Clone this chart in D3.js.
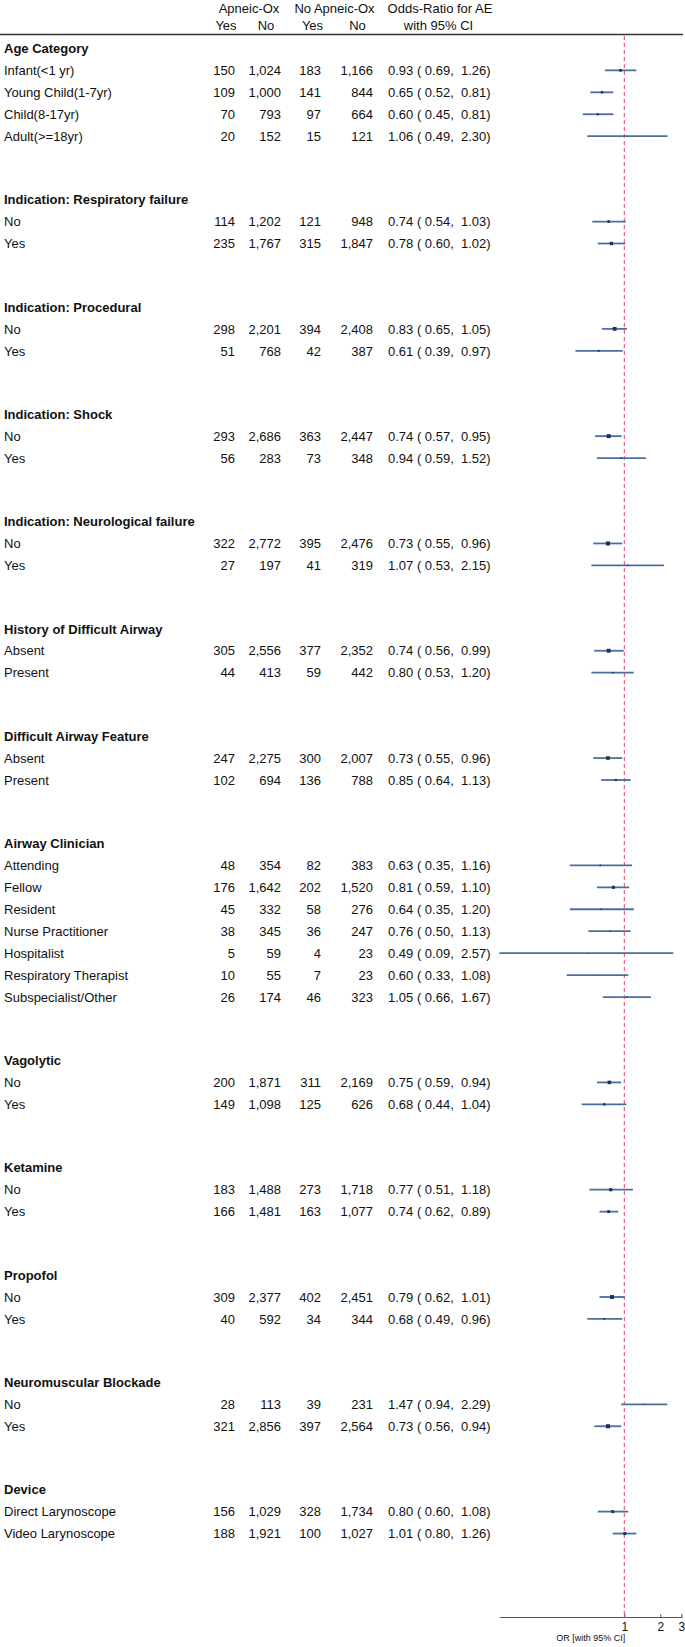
<!DOCTYPE html>
<html>
<head>
<meta charset="utf-8">
<script src="https://cdn.jsdelivr.net/npm/d3@7"></script>
<style>
  html, body { margin: 0; padding: 0; background: #fff; }
  svg { display: block; font-family: "Liberation Sans", Arial, sans-serif; }
</style>
</head>
<body>
<svg id="chart" width="685" height="1647"></svg>
<script>
// ---------- DATA ----------
const groupNames = [
  "Age Category",
  "Indication: Respiratory failure",
  "Indication: Procedural",
  "Indication: Shock",
  "Indication: Neurological failure",
  "History of Difficult Airway",
  "Difficult Airway Feature",
  "Airway Clinician",
  "Vagolytic",
  "Ketamine",
  "Propofol",
  "Neuromuscular Blockade",
  "Device"
];
// group index of each row
const rowGroup = [0,0,0,0, 1,1, 2,2, 3,3, 4,4, 5,5, 6,6, 7,7,7,7,7,7,7, 8,8, 9,9, 10,10, 11,11, 12,12];
const rowLabels = [
  "Infant(<1 yr)", "Young Child(1-7yr)", "Child(8-17yr)", "Adult(>=18yr)",
  "No", "Yes",
  "No", "Yes",
  "No", "Yes",
  "No", "Yes",
  "Absent", "Present",
  "Absent", "Present",
  "Attending", "Fellow", "Resident", "Nurse Practitioner", "Hospitalist", "Respiratory Therapist", "Subspecialist/Other",
  "No", "Yes",
  "No", "Yes",
  "No", "Yes",
  "No", "Yes",
  "Direct Larynoscope", "Video Larynoscope"
];
const apneicYes = [150,109,70,20, 114,235, 298,51, 293,56, 322,27, 305,44, 247,102, 48,176,45,38,5,10,26, 200,149, 183,166, 309,40, 28,321, 156,188];
const apneicNo  = [1024,1000,793,152, 1202,1767, 2201,768, 2686,283, 2772,197, 2556,413, 2275,694, 354,1642,332,345,59,55,174, 1871,1098, 1488,1481, 2377,592, 113,2856, 1029,1921];
const noApneicYes = [183,141,97,15, 121,315, 394,42, 363,73, 395,41, 377,59, 300,136, 82,202,58,36,4,7,46, 311,125, 273,163, 402,34, 39,397, 328,100];
const noApneicNo  = [1166,844,664,121, 948,1847, 2408,387, 2447,348, 2476,319, 2352,442, 2007,788, 383,1520,276,247,23,23,323, 2169,626, 1718,1077, 2451,344, 231,2564, 1734,1027];
const orEst = [0.93,0.65,0.60,1.06, 0.74,0.78, 0.83,0.61, 0.74,0.94, 0.73,1.07, 0.74,0.80, 0.73,0.85, 0.63,0.81,0.64,0.76,0.49,0.60,1.05, 0.75,0.68, 0.77,0.74, 0.79,0.68, 1.47,0.73, 0.80,1.01];
const ciLow = [0.69,0.52,0.45,0.49, 0.54,0.60, 0.65,0.39, 0.57,0.59, 0.55,0.53, 0.56,0.53, 0.55,0.64, 0.35,0.59,0.35,0.50,0.09,0.33,0.66, 0.59,0.44, 0.51,0.62, 0.62,0.49, 0.94,0.56, 0.60,0.80];
const ciHigh = [1.26,0.81,0.81,2.30, 1.03,1.02, 1.05,0.97, 0.95,1.52, 0.96,2.15, 0.99,1.20, 0.96,1.13, 1.16,1.10,1.20,1.13,2.57,1.08,1.67, 0.94,1.04, 1.18,0.89, 1.01,0.96, 2.29,0.94, 1.08,1.26];
const axisTicks = [1, 2, 3];
const axisLabel = "OR [with 95% CI]";
const headTop = ["Apneic-Ox", "No Apneic-Ox", "Odds-Ratio for AE"];
const headSub = ["Yes", "No", "Yes", "No", "with 95% CI"];

// ---------- LAYOUT ----------
const svg = d3.select("#chart");
const fmtInt = d3.format(",");
const fmt2 = d3.format(".2f");
const pad5 = v => { const s = fmt2(v); return " ".repeat(Math.max(0, 5 - s.length)) + s; };

const rowStep = 21.95;
const gapAfterGroup = 63.4;   // distance from a group's last row to the next header
const yUnit = d3.scaleLinear().domain([0, 1]).range([48.4, 48.4 + rowStep]);

// compute slot positions (in row units)
const headerSlot = [];
const rowSlot = [];
let slot = 0;
groupNames.forEach((g, gi) => {
  headerSlot.push(slot);
  const idx = rowGroup.map((v, i) => v === gi ? i : -1).filter(i => i >= 0);
  idx.forEach((ri, j) => { rowSlot[ri] = slot + j + 1; });
  slot = slot + idx.length + gapAfterGroup / rowStep;
});

const x = d3.scaleLog().domain([0.09, 3.05]).range([499.3, 682.2]);
const axisY = 1617;
const totals = apneicYes.map((v, i) => v + apneicNo[i] + noApneicYes[i] + noApneicNo[i]);
const boxSize = d3.scaleSqrt().domain([0, d3.max(totals)]).range([0, 4.1]);

const textCol = "#111";
const fs = 13;

// ---------- HEADER ----------
const hdr = svg.append("g").attr("font-size", fs).attr("fill", textCol);
const topX = [249, 334.5, 440];
headTop.forEach((t, i) => hdr.append("text").attr("x", topX[i]).attr("y", 12.5).attr("text-anchor", "middle").text(t));
const subX = [226, 266, 312.5, 357.5, 438.5];
headSub.forEach((t, i) => hdr.append("text").attr("x", subX[i]).attr("y", 29.5).attr("text-anchor", "middle").text(t));
svg.append("line").attr("x1", 0).attr("x2", 683).attr("y1", 34.5).attr("y2", 34.5)
  .attr("stroke", "#333").attr("stroke-width", 1.6);

// ---------- GROUP HEADERS ----------
svg.append("g").selectAll("text").data(groupNames).join("text")
  .attr("x", 4).attr("y", (d, i) => yUnit(headerSlot[i]) + 4.7)
  .attr("font-size", fs).attr("font-weight", "bold").attr("fill", textCol)
  .text(d => d);

// ---------- TABLE ROWS ----------
const rows = rowLabels.map((l, i) => ({ i, l }));
const tg = svg.append("g").attr("font-size", fs).attr("fill", textCol);
tg.selectAll("text.lab").data(rows).join("text").attr("class", "lab")
  .attr("x", 4).attr("y", d => yUnit(rowSlot[d.i]) + 4.7).text(d => d.l);

const numCols = [
  { arr: apneicYes, x: 235 },
  { arr: apneicNo, x: 281 },
  { arr: noApneicYes, x: 321 },
  { arr: noApneicNo, x: 373 }
];
numCols.forEach(c => {
  tg.append("g").selectAll("text").data(rows).join("text")
    .attr("x", c.x).attr("y", d => yUnit(rowSlot[d.i]) + 4.7)
    .attr("text-anchor", "end").text(d => fmtInt(c.arr[d.i]));
});
tg.append("g").selectAll("text").data(rows).join("text")
  .attr("x", 388).attr("y", d => yUnit(rowSlot[d.i]) + 4.7)
  .attr("xml:space", "preserve").style("white-space", "pre")
  .text(d => `${fmt2(orEst[d.i])} (${pad5(ciLow[d.i])}, ${pad5(ciHigh[d.i])})`);

// ---------- FOREST ----------
svg.append("line").attr("x1", x(1)).attr("x2", x(1)).attr("y1", 36).attr("y2", axisY)
  .attr("stroke", "#e8406a").attr("stroke-width", 1).attr("stroke-dasharray", "4,3");

const fg = svg.append("g");
fg.selectAll("line.ci").data(rows).join("line").attr("class", "ci")
  .attr("x1", d => x(ciLow[d.i])).attr("x2", d => x(ciHigh[d.i]))
  .attr("y1", d => yUnit(rowSlot[d.i])).attr("y2", d => yUnit(rowSlot[d.i]))
  .attr("stroke", "#4a6f9c").attr("stroke-width", 1.8);
fg.selectAll("rect.box").data(rows).join("rect").attr("class", "box")
  .attr("x", d => x(orEst[d.i]) - Math.max(0.8, boxSize(totals[d.i])) / 2)
  .attr("y", d => yUnit(rowSlot[d.i]) - Math.max(0.8, boxSize(totals[d.i])) / 2)
  .attr("width", d => Math.max(0.8, boxSize(totals[d.i])))
  .attr("height", d => Math.max(0.8, boxSize(totals[d.i])))
  .attr("fill", "#16355f");

// ---------- AXIS ----------
const axis = d3.axisBottom(x).tickValues(axisTicks).tickFormat(d3.format("d")).tickSizeInner(-3).tickSizeOuter(0).tickPadding(5);
const ag = svg.append("g").attr("transform", `translate(0,${axisY})`).call(axis);
ag.select(".domain").attr("stroke", "#555").attr("stroke-width", 1);
ag.selectAll(".tick line").attr("stroke", "#555");
ag.selectAll(".tick text").attr("font-size", 12).attr("fill", textCol)
  .attr("font-family", "Liberation Sans, Arial, sans-serif");
svg.append("text").attr("x", (x.range()[0] + x.range()[1]) / 2).attr("y", 1641)
  .attr("text-anchor", "middle").attr("font-size", 9).attr("fill", textCol).text(axisLabel);
</script>
</body>
</html>
